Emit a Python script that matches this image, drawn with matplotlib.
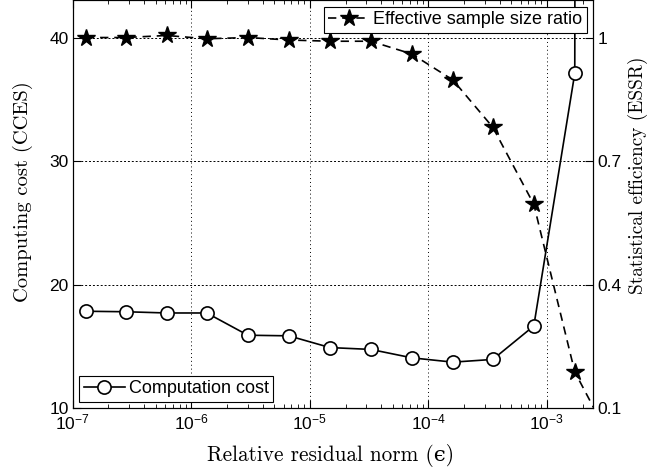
import matplotlib
matplotlib.use("Agg")
import matplotlib.pyplot as plt
from matplotlib.ticker import LogLocator, FixedLocator, NullFormatter, LogFormatterMathtext

plt.rcParams["font.family"] = ["Liberation Sans", "DejaVu Sans"]
plt.rcParams["mathtext.fontset"] = "custom"
plt.rcParams["mathtext.rm"] = "Liberation Sans"
plt.rcParams["mathtext.it"] = "Liberation Sans:italic"
plt.rcParams["mathtext.bf"] = "Liberation Sans:bold"

# Relative residual norm tolerance (x), computing cost and effective sample size ratio
epsilon = [1.29e-7, 2.8e-7, 6.2e-7, 1.35e-6, 3.0e-6, 6.65e-6, 1.48e-5,
           3.27e-5, 7.26e-5, 1.61e-4, 3.5e-4, 7.76e-4, 1.72e-3, 3.8e-3]
cost = [17.84, 17.8, 17.7, 17.7, 15.9, 15.85, 14.9,
        14.75, 14.07, 13.72, 13.94, 16.65, 37.1, 2000.0]
essr = [1.0, 1.0, 1.005, 0.997, 1.0, 0.994, 0.991,
        0.991, 0.96, 0.897, 0.782, 0.595, 0.188, 0.0]

cost_ticks = [10, 20, 30, 40]
essr_ticks = [0.1, 0.4, 0.7, 1.0]
essr_ticklabels = ["0.1", "0.4", "0.7", "1"]

label_font = ["cmr10", "DejaVu Serif"]

fig = plt.figure(figsize=(6.68, 4.68), dpi=100)
ax = fig.add_axes([0.109, 0.128, 0.779, 0.871])
ax2 = ax.twinx()

(l_cost,) = ax.plot(epsilon, cost, "-", color="black", lw=1.2, marker="o",
                    ms=9.5, mfc="white", mec="black", mew=1.2,
                    label="Computation cost", zorder=3)
(l_essr,) = ax2.plot(epsilon, essr, color="black", lw=1.2, ls=(0, (5, 3.5)),
                     marker="*", ms=13, mfc="black", mec="black",
                     label="Effective sample size ratio", zorder=3)

ax.set_xscale("log")
ax.set_xlim(1e-7, 2.46e-3)
ax.set_ylim(10, 43)
ax2.set_ylim(0.1, 1.09)

ax.xaxis.set_major_locator(LogLocator(base=10, numticks=20))
ax.xaxis.set_minor_locator(LogLocator(base=10, subs=range(2, 10), numticks=20))
ax.xaxis.set_minor_formatter(NullFormatter())
ax.xaxis.set_major_formatter(LogFormatterMathtext())
ax.yaxis.set_major_locator(FixedLocator(cost_ticks))
ax2.yaxis.set_major_locator(FixedLocator(essr_ticks))
ax2.set_yticklabels(essr_ticklabels)

for a in (ax, ax2):
    a.tick_params(which="major", direction="in", length=6, width=0.8,
                  labelsize=12.5, pad=3)
    a.tick_params(which="minor", direction="in", length=3, width=0.6)
ax.tick_params(which="both", top=True, right=False)
ax2.tick_params(which="both", left=False, right=True)

ax.grid(True, which="major", axis="x", color="black", lw=0.7, ls=(0, (1, 3)))
ax.grid(True, which="major", axis="y", color="black", lw=0.7, ls=(0, (2, 2)))
ax.set_axisbelow(True)

for a in (ax, ax2):
    for s in a.spines.values():
        s.set_linewidth(0.8)

ax.set_xlabel("Relative residual norm (ϵ)", family=label_font, fontsize=15.3)
ax.set_ylabel("Computing cost (CCES)", family=label_font, fontsize=14.8)
ax2.set_ylabel("Statistical efficiency (ESSR)", family=label_font, fontsize=13.8)
ax.xaxis.set_label_coords(0.495, -0.088)
ax.yaxis.set_label_coords(-0.077, 0.532)
ax2.yaxis.set_label_coords(1.067, 0.571)

leg_kw = dict(fancybox=False, edgecolor="black", framealpha=1, fontsize=13,
              borderpad=0.25, handlelength=2.3, handletextpad=0.2,
              borderaxespad=0.35)
leg1 = ax2.legend(handles=[l_essr], loc="upper right", **leg_kw)
leg1.get_frame().set_linewidth(0.8)
leg2 = ax2.legend(handles=[l_cost], loc="lower left", **leg_kw)
leg2.get_frame().set_linewidth(0.8)
ax2.add_artist(leg1)

fig.savefig("out.png", dpi=100)
